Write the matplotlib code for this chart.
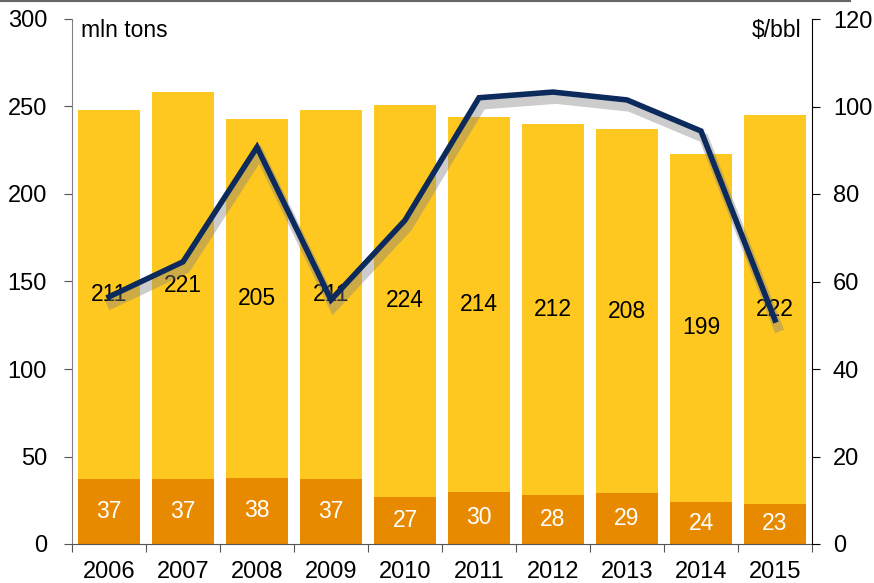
import matplotlib.pyplot as plt
import matplotlib.patheffects as pe
import numpy as np

plt.rcParams['font.family'] = ['Liberation Sans', 'DejaVu Sans']

years = ['2006', '2007', '2008', '2009', '2010', '2011', '2012', '2013', '2014', '2015']
bottom_vals = [37, 37, 38, 37, 27, 30, 28, 29, 24, 23]
top_vals = [211, 221, 205, 211, 224, 214, 212, 208, 199, 222]
price = [56.5, 64.5, 90.7, 55.8, 74, 102, 103.3, 101.5, 94.4, 51.2]

x = np.arange(len(years))
bottom_vals = np.array(bottom_vals)
top_vals = np.array(top_vals)

fig = plt.figure(figsize=(8.74, 5.83), dpi=100)
ax = fig.add_axes([72/874, 39/583, 740/874, 525/583])

ax.bar(x, bottom_vals, width=0.83, color='#E88A00')
ax.bar(x, top_vals, width=0.83, bottom=bottom_vals, color='#FFC820')

for i in range(len(x)):
    ax.text(x[i], bottom_vals[i] / 2, str(bottom_vals[i]), ha='center', va='center',
            fontsize=16.5, color='white')
    ax.text(x[i], bottom_vals[i] + top_vals[i] / 2, str(top_vals[i]), ha='center', va='center',
            fontsize=16.5, color='black')

ax.set_xlim(-0.5, len(x) - 0.5)
ax.set_ylim(0, 300)
ax.set_yticks([0, 50, 100, 150, 200, 250, 300])
ax.set_xticks(np.arange(-0.5, len(x)))
ax.set_xticklabels([])
ax.set_xticks(x, minor=True)
ax.set_xticklabels(years, minor=True)
ax.tick_params(axis='x', which='minor', length=0, labelsize=17, pad=12)
ax.tick_params(axis='x', which='major', length=6, color='#555555', direction='out')
ax.tick_params(axis='y', length=6, labelsize=17, color='#555555', direction='out', pad=12)

ax.spines['top'].set_visible(False)
ax.spines['right'].set_visible(False)
ax.spines['left'].set_color('#808080')
ax.spines['bottom'].set_color('#555555')

ax.text(0.012, 1.0, 'mln tons', transform=ax.transAxes, fontsize=16.5,
        ha='left', va='top')

ax2 = ax.twinx()
ax2.plot(x, price, color='#0D2A5C', linewidth=4, solid_joinstyle='miter',
         path_effects=[pe.SimpleLineShadow(offset=(2, -5), shadow_color='gray', alpha=0.4,
                                           linewidth=7),
                       pe.Normal()])
ax2.set_ylim(0, 120)
ax2.set_yticks([0, 20, 40, 60, 80, 100, 120])
ax2.tick_params(axis='y', length=6, labelsize=17, direction='out', pad=9)
for s in ['top', 'left', 'bottom']:
    ax2.spines[s].set_visible(False)
ax2.spines['right'].set_color('black')
ax2.text(0.985, 1.0, '$/bbl', transform=ax2.transAxes, fontsize=16.5, ha='right', va='top')

fig.add_artist(plt.Line2D([0, 850/874], [0.998, 0.998], color='#666666', linewidth=1.5))

plt.savefig('out.png', dpi=100)
